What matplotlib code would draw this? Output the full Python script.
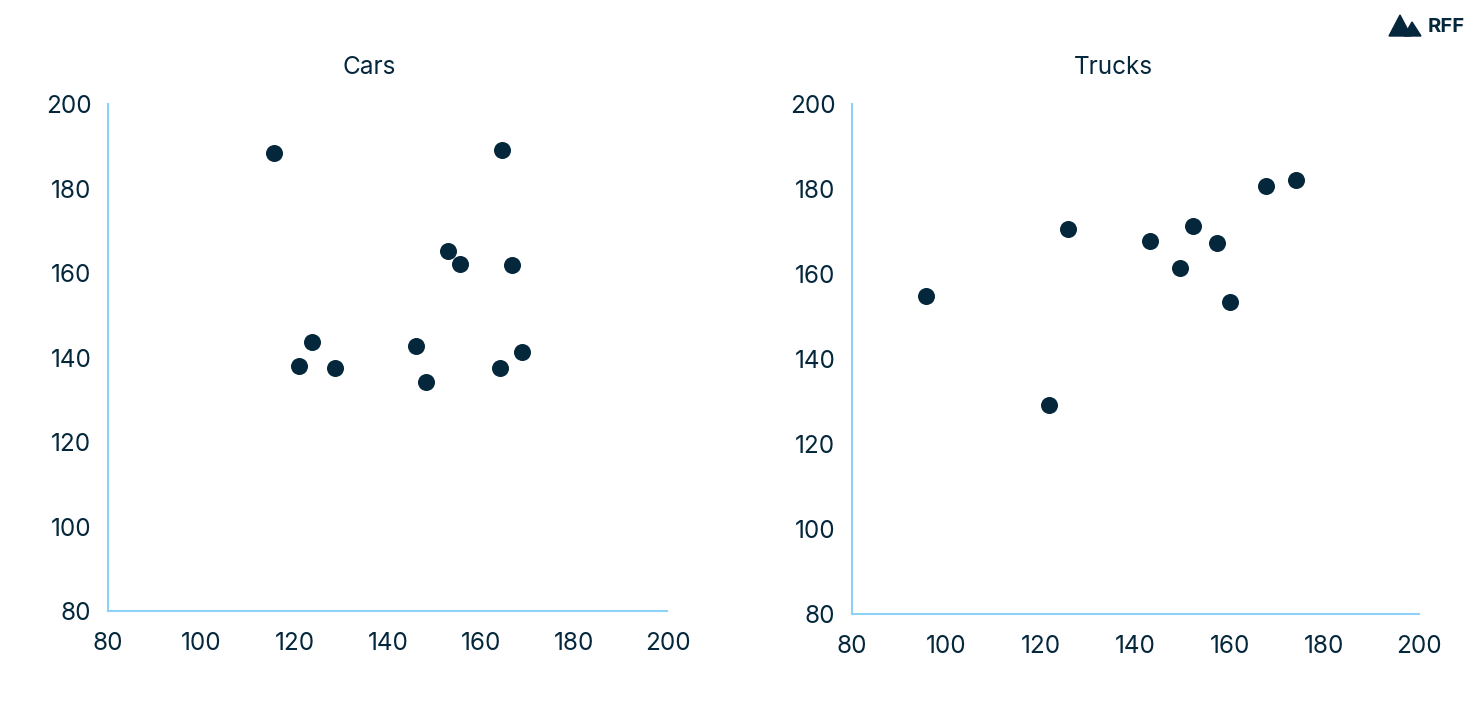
import matplotlib.pyplot as plt
from matplotlib.patches import Polygon

# Data
cars_x = [115.6, 164.4, 152.9, 155.4, 166.6, 123.7, 120.9, 128.6, 146.0, 148.1, 164.0, 168.7]
cars_y = [188.6, 189.3, 165.2, 162.1, 161.9, 143.7, 138.0, 137.5, 142.7, 134.2, 137.5, 141.3]

trucks_x = [95.7, 121.7, 125.7, 143.1, 149.4, 152.2, 157.2, 160.0, 167.6, 174.0]
trucks_y = [154.8, 129.2, 170.6, 167.8, 161.4, 171.3, 167.3, 153.4, 180.9, 182.1]

ticks = [80, 100, 120, 140, 160, 180, 200]
titles = ['Cars', 'Trucks']

navy = '#04273c'
spine_col = '#8fd1f7'
fnt = 17.5

plt.rcParams['font.family'] = ['Inter', 'DejaVu Sans']

fig = plt.figure(figsize=(14.8, 7.1), dpi=100)

ax_pos = [[0.073, 0.139, 0.378, 0.714],
          [0.5757, 0.135, 0.383, 0.718]]
title_x = [369 / 1480, 1113 / 1480]
data = [(cars_x, cars_y), (trucks_x, trucks_y)]

for i in range(2):
    ax = fig.add_axes(ax_pos[i])
    x, y = data[i]
    ax.scatter(x, y, s=150, color=navy, linewidths=0, zorder=3)
    ax.set_xlim(80, 200)
    ax.set_ylim(80, 200)
    ax.set_xticks(ticks)
    ax.set_yticks(ticks)
    ax.tick_params(length=0, labelsize=fnt, labelcolor=navy)
    ax.tick_params(axis='x', pad=15)
    ax.tick_params(axis='y', pad=12)
    for s in ['top', 'right']:
        ax.spines[s].set_visible(False)
    for s in ['left', 'bottom']:
        ax.spines[s].set_color(spine_col)
        ax.spines[s].set_linewidth(1.5)
    fig.text(title_x[i], 1 - 67 / 710, titles[i], ha='center', va='center',
             fontsize=fnt, color=navy)

# RFF logo
def fpt(px, py):
    return (px / 1480, 1 - py / 710)

fig.patches.append(Polygon([fpt(1389, 36), fpt(1400, 15), fpt(1411, 36)],
                           closed=True, transform=fig.transFigure, color=navy))
fig.patches.append(Polygon([fpt(1404, 36), fpt(1412, 22), fpt(1421, 36)],
                           closed=True, transform=fig.transFigure, color=navy))
fig.text(1428 / 1480, 1 - 27 / 710, 'RFF', ha='left', va='center',
         fontsize=14.5, fontweight='bold', color=navy)

fig.savefig('out.png', dpi=100)
